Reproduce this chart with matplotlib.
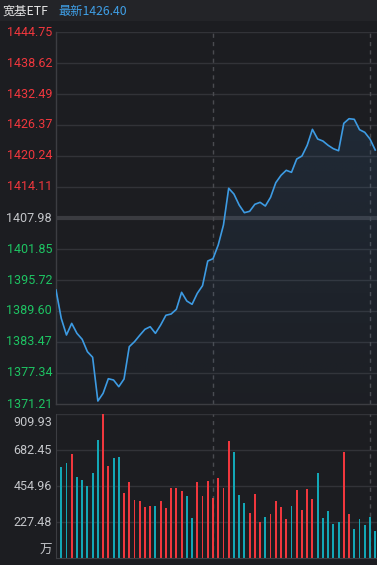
import matplotlib
matplotlib.use("Agg")
import matplotlib.pyplot as plt
import numpy as np
from matplotlib.patches import Rectangle, Polygon

# ---------------- data ----------------
price_ticks = [1444.75, 1438.62, 1432.49, 1426.37, 1420.24, 1414.11, 1407.98,
               1401.85, 1395.72, 1389.60, 1383.47, 1377.34, 1371.21]
pre_close = 1407.98
price = [1393.75, 1388.15, 1384.85, 1387.15, 1385.18, 1384.00, 1381.55, 1380.45,
         1371.80, 1373.32, 1376.21, 1375.95, 1374.63, 1376.15, 1382.54, 1383.53,
         1384.79, 1385.98, 1386.49, 1385.18, 1386.83, 1388.75, 1389.00, 1389.93,
         1393.29, 1391.57, 1390.92, 1393.09, 1394.60, 1399.48, 1399.93, 1402.64,
         1406.60, 1413.85, 1412.72, 1410.55, 1409.03, 1409.30, 1410.69, 1411.08,
         1410.35, 1412.07, 1414.96, 1416.42, 1417.41, 1417.01, 1419.64, 1420.24,
         1422.35, 1425.51, 1423.60, 1423.20, 1422.35, 1421.68, 1421.28, 1426.70,
         1427.61, 1427.49, 1425.44, 1424.92, 1423.60, 1421.42]
volume = [265, 575, 600, 657, 512, 493, 455, 537, 746, 910, 581, 632, 638, 411,
          480, 366, 360, 322, 329, 329, 360, 316, 442, 442, 423, 392, 253, 480,
          392, 487, 380, 505, 442, 739, 670, 398, 348, 284, 404, 227, 259, 278,
          360, 322, 246, 329, 430, 303, 436, 373, 537, 253, 297, 215, 227, 670,
          278, 183, 246, 209, 259, 171]
vol_dir = ['f', 'd', 'd', 'u', 'd', 'd', 'd', 'd', 'd', 'u', 'u', 'd', 'd', 'u',
           'u', 'u', 'u', 'u', 'u', 'd', 'u', 'u', 'u', 'u', 'u', 'd', 'd', 'u',
           'u', 'u', 'u', 'u', 'u', 'u', 'd', 'd', 'd', 'u', 'u', 'u', 'd', 'u',
           'u', 'u', 'u', 'd', 'u', 'u', 'u', 'u', 'd', 'd', 'd', 'd', 'd', 'u',
           'u', 'd', 'd', 'd', 'd', 'd']
vol_ticks = [909.93, 682.45, 454.96, 227.48]
vol_labels = ["909.93", "682.45", "454.96", "227.48"]
title_name = "宽基ETF"
title_last = "最新1426.40"
divider_idx = [30, 60]

# ---------------- style ----------------
W, H = 377, 565
BG = "#1c1d21"
HEADER_BG = "#232428"
GRID = "#323338"
MID = "#3a3b40"
SPINE = "#3c3d42"
RED = "#f0373d"
GREEN = "#1ec463"
GRAYTXT = "#c4c6ca"
TEAL = "#13a7b6"
LINE = "#3d9be3"
FONT = ["Roboto", "Noto Sans CJK SC", "DejaVu Sans"]
plt.rcParams['font.family'] = FONT

fig = plt.figure(figsize=(W / 100, H / 100), dpi=100, facecolor=BG)

def fx(px):
    return px / W

def fy(py):
    return 1 - py / H

# header band
fig.patches.append(Rectangle((0, fy(21)), 1, 21 / H, transform=fig.transFigure,
                             facecolor=HEADER_BG, edgecolor='none', zorder=0))
fig.text(fx(3), fy(11), title_name, color="#e6e6e6", fontsize=8.8, va='center',
         ha='left', family=["Noto Sans CJK SC", "DejaVu Sans"])
fig.text(fx(58), fy(11), title_name and title_last, color="#3f9fe6", fontsize=8.8,
         va='center', ha='left', family=["Noto Sans CJK SC", "DejaVu Sans"])

unit = 5.233  # px per minute
left_px = 56
xmax = (W - left_px) / unit

# ---------------- price panel ----------------
top_p, bot_p = 32, 404
axp = fig.add_axes([fx(left_px), fy(bot_p), fx(W - left_px), (bot_p - top_p) / H])
axp.set_facecolor(BG)
axp.set_xlim(0, xmax)
axp.set_ylim(price_ticks[-1], price_ticks[0])
for v in price_ticks[1:-1]:
    if abs(v - pre_close) < 1e-6:
        axp.axhline(v, color=MID, lw=3.0, zorder=1)
    else:
        axp.axhline(v, color=GRID, lw=1.0, zorder=1)
axp.axhline(price_ticks[0], color=GRID, lw=1.0, zorder=1)
for d in divider_idx:
    axp.axvline(d, color="#4a4b50", lw=1.0, ls=(0, (3, 3)), zorder=1)

x = np.arange(len(price))
# gradient fill under the line
ymin = price_ticks[-1]
grad = np.zeros((100, 2, 4))
rgb = np.array([60, 130, 200]) / 255
grad[..., :3] = rgb
alphas = np.linspace(0.02, 0.13, 100)[:, None]
grad[..., 3] = alphas
im = axp.imshow(grad, extent=[0, xmax, ymin, max(price)], origin='lower',
                aspect='auto', zorder=2, interpolation='bilinear')
verts = [(x[0], ymin)] + list(zip(x, price)) + [(x[-1] + 0.5, price[-1] - 1.1), (x[-1] + 0.5, ymin)]
poly = Polygon(verts, closed=True, facecolor='none', edgecolor='none',
               transform=axp.transData)
axp.add_patch(poly)
im.set_clip_path(poly)
axp.plot(x, price, color=LINE, lw=1.2, zorder=3, solid_joinstyle='round')
axp.set_xlim(0, xmax)
axp.set_ylim(price_ticks[-1], price_ticks[0])

axp.set_xticks([])
axp.set_yticks([])
for s in ['right', 'top']:
    axp.spines[s].set_visible(False)
axp.spines['left'].set_color(SPINE)
axp.spines['bottom'].set_color(SPINE)
axp.spines['left'].set_linewidth(1.0)
axp.spines['bottom'].set_linewidth(1.0)

for v in price_ticks:
    if abs(v - pre_close) < 1e-6:
        c = GRAYTXT
    elif v > pre_close:
        c = RED
    else:
        c = GREEN
    py = top_p + (price_ticks[0] - v) / (price_ticks[0] - price_ticks[-1]) * (bot_p - top_p)
    fig.text(fx(52), fy(py), f"{v:.2f}", color=c, fontsize=9, ha='right', va='center')

# ---------------- volume panel ----------------
top_v, bot_v = 414, 558
axv = fig.add_axes([fx(left_px), fy(bot_v), fx(W - left_px), (bot_v - top_v) / H])
axv.set_facecolor(BG)
axv.set_xlim(0, xmax)
axv.set_ylim(0, vol_ticks[0])
for v in vol_ticks:
    axv.axhline(v, color=GRID, lw=1.0, zorder=1)
for d in divider_idx:
    axv.axvline(d, color="#4a4b50", lw=1.0, ls=(0, (3, 3)), zorder=1)
cmap = {'u': RED, 'd': TEAL, 'f': "#e8e8e8"}
colors = [cmap[c] for c in vol_dir]
axv.bar(np.arange(len(volume)), volume, width=0.36, color=colors, zorder=2,
        linewidth=0)
axv.set_xticks([])
axv.set_yticks([])
for s in ['right', 'top']:
    axv.spines[s].set_visible(False)
axv.spines['left'].set_color(SPINE)
axv.spines['bottom'].set_color(SPINE)

vol_label_y = [422, 450, 486, 522]
for lab, py in zip(vol_labels, vol_label_y):
    fig.text(fx(52), fy(py), lab, color=GRAYTXT, fontsize=9, ha='right', va='center')
fig.text(fx(52), fy(550), "万", color=GRAYTXT, fontsize=9, ha='right', va='center',
         family=["Noto Sans CJK SC", "DejaVu Sans"])

fig.savefig("out.png", dpi=100, facecolor=BG)
